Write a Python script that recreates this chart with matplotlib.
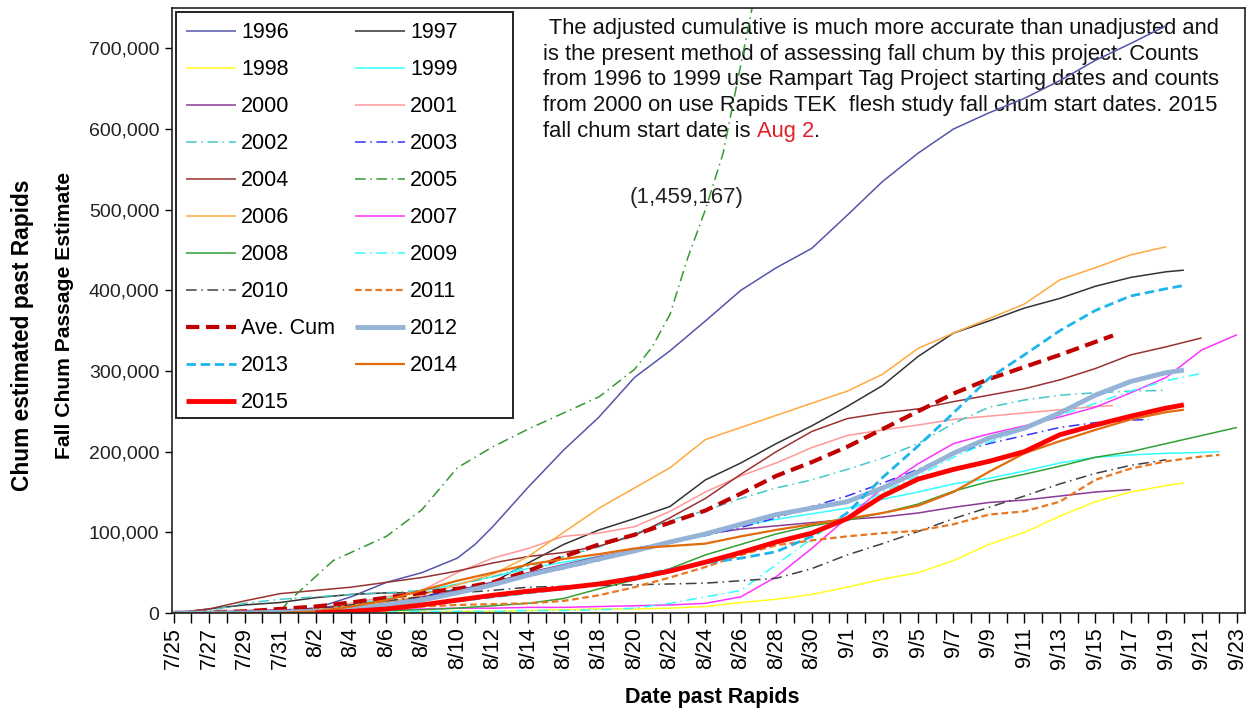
import matplotlib
matplotlib.use('Agg')
import matplotlib.pyplot as plt
from matplotlib.patches import Rectangle
from matplotlib.offsetbox import TextArea, HPacker, VPacker, AnnotationBbox
import pandas as pd

plt.rcParams['font.family'] = ['Liberation Sans', 'DejaVu Sans']

# x axis: day index, 0 = 7/25 ... 60 = 9/23
date_labels = [f'{d.month}/{d.day}' for d in pd.date_range('2015-07-25', '2015-09-23')]

# cumulative passage, thousands of fish
d_even = list(range(0, 62, 2))

days_1996 = [0, 2, 4, 6, 8, 10, 12, 14, 16, 17, 18, 20, 22, 24, 26, 28, 30, 32, 34, 36, 38, 40, 42, 44, 46, 48, 50, 52, 54, 56]
val_1996 = [0, 0, 1, 2, 6, 20, 38, 50, 68, 85, 107, 156, 202, 243, 292, 325, 362, 400, 428, 452, 493, 535, 570, 600, 620, 638, 660, 685, 706, 728]

days_1997 = d_even[:29] + [57]
val_1997 = [0, 5, 10, 13, 19, 23, 25, 25, 28, 38, 62, 85, 103, 117, 132, 165, 186, 210, 232, 256, 282, 318, 347, 362, 378, 390, 405, 416, 423, 425]

days_1998 = d_even[:29] + [57]
val_1998 = [0, 0, 0, 0, 0, 1, 1, 1, 2, 2, 3, 4, 5, 5, 6, 8, 13, 17, 23, 32, 42, 50, 65, 85, 100, 120, 138, 150, 158, 161]

days_1999 = d_even[:30] + [59]
val_1999 = [0, 0, 1, 2, 4, 10, 18, 27, 36, 45, 55, 63, 70, 78, 87, 96, 108, 116, 123, 130, 141, 150, 160, 167, 176, 186, 193, 196, 198, 199, 200]

days_2000 = d_even[:28]
val_2000 = [0, 1, 3, 4, 5, 8, 14, 20, 27, 38, 50, 60, 70, 78, 88, 98, 104, 108, 112, 116, 119, 124, 131, 137, 140, 145, 150, 153]

days_2001 = d_even[:27] + [53]
val_2001 = [0, 0, 1, 3, 6, 12, 20, 28, 50, 68, 80, 95, 99, 107, 126, 150, 170, 186, 205, 220, 227, 233, 240, 244, 248, 252, 256, 257]

days_2002 = d_even[:29]
val_2002 = [0, 3, 12, 17, 20, 23, 25, 28, 35, 45, 58, 70, 82, 98, 115, 127, 142, 155, 165, 178, 192, 210, 235, 255, 264, 270, 273, 275, 276]

days_2003 = d_even[:28] + [55]
val_2003 = [0, 0, 1, 3, 6, 9, 13, 20, 30, 38, 46, 55, 65, 80, 88, 96, 106, 118, 132, 145, 161, 178, 198, 210, 220, 230, 236, 239, 240]

days_2004 = d_even[:30]
val_2004 = [0, 5, 15, 24, 28, 32, 38, 44, 52, 62, 70, 75, 83, 96, 118, 142, 172, 200, 225, 241, 248, 253, 262, 270, 278, 289, 303, 320, 330, 341]

days_2005 = [0, 2, 4, 6, 6.5, 7, 8, 9, 10, 12, 14, 16, 18, 20, 22, 24, 26, 27, 28, 29, 30, 31, 32, 33]
val_2005 = [0, 0, 0, 2, 15, 25, 45, 65, 75, 95, 128, 180, 206, 228, 248, 268, 302, 330, 370, 440, 500, 570, 680, 790]

days_2006 = d_even[:29]
val_2006 = [0, 0, 0, 1, 5, 8, 13, 22, 35, 48, 70, 100, 130, 155, 180, 215, 230, 245, 260, 275, 296, 328, 347, 365, 383, 413, 428, 444, 454]

days_2007 = d_even[:31]
val_2007 = [0, 0, 1, 1, 2, 3, 4, 5, 6, 6, 7, 7, 8, 9, 10, 12, 20, 45, 80, 118, 155, 185, 210, 222, 232, 243, 255, 273, 292, 326, 345]

days_2008 = d_even[:31]
val_2008 = [0, 0, 0, 1, 1, 2, 3, 4, 6, 9, 12, 18, 30, 41, 55, 72, 85, 98, 108, 115, 124, 135, 151, 163, 172, 182, 193, 200, 210, 220, 230]

days_2009 = d_even[:30]
val_2009 = [0, 0, 0, 0, 1, 1, 1, 2, 2, 2, 3, 3, 4, 6, 12, 20, 28, 60, 92, 125, 150, 170, 193, 212, 228, 245, 260, 275, 288, 297]

days_2010 = d_even[:29]
val_2010 = [0, 0, 1, 3, 5, 10, 15, 20, 25, 28, 32, 33, 34, 35, 36, 37, 40, 43, 55, 72, 86, 101, 117, 131, 145, 160, 173, 183, 190]

days_2011 = d_even[:30] + [59]
val_2011 = [0, 0, 0, 1, 2, 4, 6, 8, 10, 11, 12, 15, 22, 32, 44, 57, 72, 84, 90, 95, 99, 102, 110, 122, 126, 138, 165, 179, 188, 194, 196]

days_avecum = d_even[:27] + [53]
val_avecum = [0, 1, 2, 5, 8, 13, 19, 25, 30, 38, 52, 70, 85, 97, 112, 127, 148, 170, 187, 206, 228, 250, 272, 290, 305, 320, 336, 344]

days_2012 = d_even[:29] + [57]
val_2012 = [0, 0, 0, 1, 2, 5, 10, 16, 25, 35, 47, 57, 67, 77, 88, 98, 110, 122, 130, 138, 155, 175, 198, 217, 229, 248, 270, 287, 298, 301]

days_2013 = d_even[:29] + [57]
val_2013 = [0, 0, 0, 0, 1, 3, 6, 10, 15, 20, 25, 30, 36, 45, 54, 62, 68, 76, 95, 124, 168, 207, 248, 291, 320, 350, 375, 393, 402, 406]

days_2014 = d_even[:29] + [57]
val_2014 = [0, 0, 0, 0, 2, 8, 16, 28, 40, 50, 60, 67, 73, 80, 83, 86, 95, 103, 110, 117, 124, 133, 150, 175, 198, 213, 227, 240, 249, 252]

days_2015 = d_even[4:29] + [57]
val_2015 = [0, 2, 5, 10, 16, 22, 27, 31, 36, 43, 52, 63, 75, 88, 99, 117, 145, 166, 178, 188, 200, 221, 233, 244, 254, 258]

DASHDOT = (0, (7, 3, 1, 3))

# (label, days, values, color, linewidth, linestyle)
series = [
    ('1996', days_1996, val_1996, '#5555AA', 1.1, '-'),
    ('1997', days_1997, val_1997, '#333333', 1.1, '-'),
    ('1998', days_1998, val_1998, '#FFFF22', 1.1, '-'),
    ('1999', days_1999, val_1999, '#33FFFF', 1.1, '-'),
    ('2000', days_2000, val_2000, '#8A3A96', 1.1, '-'),
    ('2001', days_2001, val_2001, '#FF9999', 1.1, '-'),
    ('2002', days_2002, val_2002, '#44C8C8', 1.1, DASHDOT),
    ('2003', days_2003, val_2003, '#3333FF', 1.1, DASHDOT),
    ('2004', days_2004, val_2004, '#993333', 1.1, '-'),
    ('2005', days_2005, val_2005, '#339933', 1.1, DASHDOT),
    ('2006', days_2006, val_2006, '#FFA93F', 1.1, '-'),
    ('2007', days_2007, val_2007, '#FF33FF', 1.1, '-'),
    ('2008', days_2008, val_2008, '#33A033', 1.1, '-'),
    ('2009', days_2009, val_2009, '#33FFFF', 1.1, DASHDOT),
    ('2010', days_2010, val_2010, '#404040', 1.1, DASHDOT),
    ('2011', days_2011, val_2011, '#E87722', 1.6, (0, (3, 1.6))),
    ('Ave. Cum', days_avecum, val_avecum, '#C00000', 3.0, (0, (3.2, 1.6))),
    ('2012', days_2012, val_2012, '#95B3D7', 3.5, '-'),
    ('2013', days_2013, val_2013, '#1EB4EC', 2.0, (0, (3.4, 1.7))),
    ('2014', days_2014, val_2014, '#E36C0A', 1.6, '-'),
    ('2015', days_2015, val_2015, '#FF0000', 3.5, '-'),
]

W, H = 1253, 708
fig = plt.figure(figsize=(W / 100, H / 100), dpi=100)
ax = fig.add_axes([172 / W, 1 - 613 / H, (1245 - 172) / W, (613 - 8) / H])

handles = []
for label, xs, ys, color, lw, ls in series:
    h, = ax.plot(xs, [v * 1000 for v in ys], color=color, lw=lw, linestyle=ls,
                 label=label, solid_capstyle='butt', dash_capstyle='butt', zorder=2)
    handles.append(h)

ax.set_xlim(-0.1, 60.45)
ax.set_ylim(0, 750000)

ax.set_xticks(range(len(date_labels)))
ax.set_xticklabels([lab if i % 2 == 0 else '' for i, lab in enumerate(date_labels)],
                   rotation=90, fontsize=15.5)
ax.tick_params(axis='x', direction='out', length=7, width=1, pad=3)
ax.set_yticks(range(0, 800000, 100000))
ax.set_yticklabels([f'{v:,}' for v in range(0, 800000, 100000)], fontsize=14, color='#222222')
ax.tick_params(axis='y', direction='out', length=5, width=1, pad=4)
for sp in ax.spines.values():
    sp.set_linewidth(1.2)
    sp.set_color('#222222')

fig.text(712 / W, 1 - 697 / H, 'Date past Rapids', ha='center', va='center',
         fontsize=15.5, fontweight='bold')
fig.text(65 / W, 1 - 315 / H, 'Fall Chum Passage Estimate', rotation=90,
         ha='center', va='center', fontsize=15.2, fontweight='bold')
fig.text(23 / W, 1 - 335 / H, 'Chum estimated past Rapids', rotation=90,
         ha='center', va='center', fontsize=16.4, fontweight='bold')

# legend box (wider than its entries, like the original)
ax.add_patch(Rectangle((176 / W, 1 - 418 / H), (513 - 176) / W, (418 - 12) / H,
                       transform=fig.transFigure, facecolor='white', edgecolor='#222222',
                       lw=1.4, zorder=4, clip_on=False))
order = list(range(0, 21, 2)) + list(range(1, 21, 2))
leg = ax.legend([handles[i] for i in order], [series[i][0] for i in order],
                ncol=2, loc='upper left', bbox_to_anchor=(0.0037, 0.9934),
                borderaxespad=0, fontsize=15.5, frameon=False,
                handlelength=2.3, handletextpad=0.25,
                labelspacing=0.745, columnspacing=0.95, borderpad=0.47)
leg.set_zorder(5)

# note text, drawn under the curves as in the original
note_lines = [
    ' The adjusted cumulative is much more accurate than unadjusted and',
    'is the present method of assessing fall chum by this project. Counts',
    'from 1996 to 1999 use Rampart Tag Project starting dates and counts',
    'from 2000 on use Rapids TEK  flesh study fall chum start dates. 2015',
]
tp = dict(fontsize=15.8, color='#111111')
rows = [TextArea(t, textprops=tp) for t in note_lines]
rows.append(HPacker(children=[TextArea('fall chum start date is ', textprops=tp),
                              TextArea('Aug 2', textprops=dict(fontsize=15.8, color='#E0202A')),
                              TextArea('.', textprops=tp)], sep=0, pad=0))
note = VPacker(children=rows, sep=3.35, pad=0, align='left')
ab = AnnotationBbox(note, (543, H - 18), xycoords='figure pixels',
                    box_alignment=(0, 1), frameon=False, pad=0, annotation_clip=False)
ab.set_zorder(1)
ax.add_artist(ab)

ax.text(28.95, 515000, '(1,459,167)', ha='center', va='center', fontsize=16,
        color='#222222', zorder=1)

fig.savefig('out.png', dpi=100)
